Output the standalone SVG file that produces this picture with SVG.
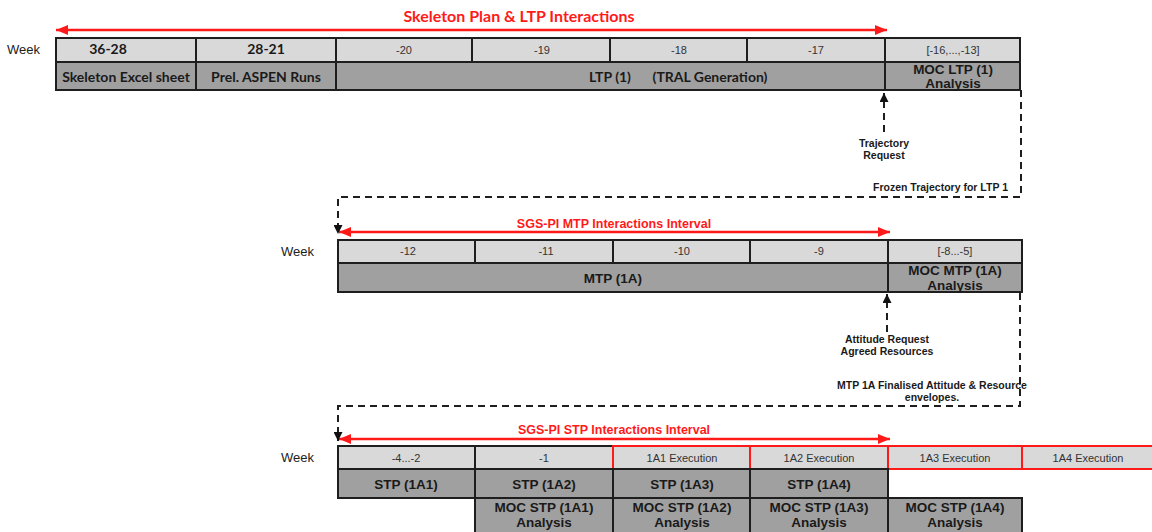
<svg xmlns="http://www.w3.org/2000/svg" width="1152" height="532" viewBox="0 0 1152 532">
<style>
.lt{fill:#d9d9d9;stroke:#1e1e1e;stroke-width:2}
.dk{fill:#a0a0a0;stroke:#1e1e1e;stroke-width:2}
.ex{fill:#d9d9d9;stroke:#ff1a1a;stroke-width:2}
.wk{font-family:"Liberation Sans",Arial,sans-serif;font-size:13px;fill:#222}
.num{font-family:"Liberation Sans",Arial,sans-serif;font-size:11px;fill:#333;text-anchor:middle}
.cal{font-family:Lato,"Open Sans",sans-serif;font-weight:bold;font-size:14px;fill:#1a1a1a;text-anchor:middle}
.bd{font-family:"Liberation Sans",Arial,sans-serif;font-weight:bold;font-size:13.5px;fill:#1a1a1a;text-anchor:middle}
.sm{font-family:"Liberation Sans",Arial,sans-serif;font-weight:bold;font-size:10.5px;fill:#1a1a1a;text-anchor:middle}
.sme{font-family:"Liberation Sans",Arial,sans-serif;font-weight:bold;font-size:10.5px;fill:#1a1a1a;text-anchor:end}
.rt{font-family:"Liberation Sans",Arial,sans-serif;font-weight:bold;font-size:12.5px;fill:#ff1a1a;text-anchor:middle}
.rtc{font-family:Lato,"Open Sans",sans-serif;font-weight:bold;font-size:16px;fill:#ff1a1a;text-anchor:middle}
.red{stroke:#ff1a1a;stroke-width:2.5;fill:none}
.dash{stroke:#1e1e1e;stroke-width:2;fill:none;stroke-dasharray:7 5}
</style>
<defs>
<marker id="rh" viewBox="0 0 12 10" refX="12" refY="5" markerWidth="12" markerHeight="10" markerUnits="userSpaceOnUse" orient="auto-start-reverse">
<path d="M0,0 L12,5 L0,10 Z" fill="#ff1a1a"/>
</marker>
<marker id="bh" viewBox="0 0 10 10" refX="10" refY="5" markerWidth="10" markerHeight="9" markerUnits="userSpaceOnUse" orient="auto">
<path d="M0,0 L10,5 L0,10 Z" fill="#111"/>
</marker>
</defs>
<rect width="1152" height="532" fill="#fff"/>

<!-- Section 1 -->
<text class="rtc" x="519" y="22">Skeleton Plan &amp; LTP Interactions</text>
<text class="wk" x="7" y="54">Week</text>
<g id="w1-36-28"><rect class="lt" x="56" y="38" width="140" height="24"/><text class="cal" x="108" y="54">36-28</text></g>
<g id="w1-28-21"><rect class="lt" x="196" y="38" width="140" height="24"/><text class="cal" x="266" y="54">28-21</text></g>
<g id="w1-20"><rect class="lt" x="336" y="38" width="136" height="24"/><text class="num" x="404" y="54">-20</text></g>
<g id="w1-19"><rect class="lt" x="472" y="38" width="138" height="24"/><text class="num" x="542" y="54">-19</text></g>
<g id="w1-18"><rect class="lt" x="610" y="38" width="137" height="24"/><text class="num" x="679" y="54">-18</text></g>
<g id="w1-17"><rect class="lt" x="747" y="38" width="138" height="24"/><text class="num" x="816" y="54">-17</text></g>
<g id="w1-16-13"><rect class="lt" x="885" y="38" width="135" height="24"/><text class="num" x="953" y="54">[-16,...,-13]</text></g>
<g id="skeleton"><rect class="dk" x="56" y="62" width="140" height="28"/><text class="cal" x="126" y="82">Skeleton Excel sheet</text></g>
<g id="aspen"><rect class="dk" x="196" y="62" width="140" height="28"/><text class="cal" x="266" y="82">Prel. ASPEN Runs</text></g>
<g id="ltp1"><rect class="dk" x="336" y="62" width="549" height="28"/><text class="cal" x="610" y="82">LTP (1)</text><text class="cal" x="710" y="82">(TRAL Generation)</text></g>
<g id="mocltp1"><rect class="dk" x="885" y="62" width="135" height="28"/><text class="bd" x="953" y="74">MOC LTP (1)</text><text class="bd" x="953" y="88">Analysis</text></g>

<!-- Section 2 -->
<text class="rt" x="614" y="228">SGS-PI MTP Interactions Interval</text>
<text class="wk" x="281" y="256">Week</text>
<g id="w2-12"><rect class="lt" x="338" y="240" width="137" height="23"/><text class="num" x="408" y="255">-12</text></g>
<g id="w2-11"><rect class="lt" x="475" y="240" width="138" height="23"/><text class="num" x="546" y="255">-11</text></g>
<g id="w2-10"><rect class="lt" x="613" y="240" width="137" height="23"/><text class="num" x="682" y="255">-10</text></g>
<g id="w2-9"><rect class="lt" x="750" y="240" width="138" height="23"/><text class="num" x="819" y="255">-9</text></g>
<g id="w2-8-5"><rect class="lt" x="888" y="240" width="134" height="23"/><text class="num" x="955" y="255">[-8...-5]</text></g>
<g id="mtp1a"><rect class="dk" x="338" y="263" width="550" height="29"/><text class="bd" x="613" y="283">MTP (1A)</text></g>
<g id="mocmtp1a"><rect class="dk" x="888" y="263" width="134" height="29"/><text class="bd" x="955" y="275">MOC MTP (1A)</text><text class="bd" x="955" y="290">Analysis</text></g>

<!-- Section 3 -->
<text class="rt" x="614" y="434">SGS-PI STP Interactions Interval</text>
<text class="wk" x="281" y="462">Week</text>
<g id="w3-4-2"><rect class="lt" x="338" y="446" width="137" height="23"/><text class="num" x="406" y="462">-4...-2</text></g>
<g id="w3-1"><rect class="lt" x="475" y="446" width="138" height="23"/><text class="num" x="544" y="462">-1</text></g>
<g id="ex1a1"><rect class="ex" x="613" y="446" width="137" height="23"/><text class="num" x="682" y="462">1A1 Execution</text></g>
<g id="ex1a2"><rect class="ex" x="750" y="446" width="138" height="23"/><text class="num" x="819" y="462">1A2 Execution</text></g>
<g id="ex1a3"><rect class="ex" x="888" y="446" width="134" height="23"/><text class="num" x="955" y="462">1A3 Execution</text></g>
<g id="ex1a4"><rect class="ex" x="1022" y="446" width="140" height="23"/><text class="num" x="1088" y="462">1A4 Execution</text></g>
<g id="stp1a1"><rect class="dk" x="338" y="469" width="137" height="29"/><text class="bd" x="406" y="489">STP (1A1)</text></g>
<g id="stp1a2"><rect class="dk" x="475" y="469" width="138" height="29"/><text class="bd" x="544" y="489">STP (1A2)</text></g>
<g id="stp1a3"><rect class="dk" x="613" y="469" width="137" height="29"/><text class="bd" x="682" y="489">STP (1A3)</text></g>
<g id="stp1a4"><rect class="dk" x="750" y="469" width="138" height="29"/><text class="bd" x="819" y="489">STP (1A4)</text></g>
<g id="mocstp1a1"><rect class="dk" x="475" y="498" width="138" height="44"/><text class="bd" x="544" y="512">MOC STP (1A1)</text><text class="bd" x="544" y="527">Analysis</text></g>
<g id="mocstp1a2"><rect class="dk" x="613" y="498" width="137" height="44"/><text class="bd" x="682" y="512">MOC STP (1A2)</text><text class="bd" x="682" y="527">Analysis</text></g>
<g id="mocstp1a3"><rect class="dk" x="750" y="498" width="138" height="44"/><text class="bd" x="819" y="512">MOC STP (1A3)</text><text class="bd" x="819" y="527">Analysis</text></g>
<g id="mocstp1a4"><rect class="dk" x="888" y="498" width="134" height="44"/><text class="bd" x="955" y="512">MOC STP (1A4)</text><text class="bd" x="955" y="527">Analysis</text></g>

<!-- Connectors -->
<g id="connectors">
<line class="red" x1="56" y1="30" x2="887" y2="30" marker-start="url(#rh)" marker-end="url(#rh)"/>
<line class="red" x1="339" y1="232" x2="890" y2="232" marker-start="url(#rh)" marker-end="url(#rh)"/>
<line class="red" x1="339" y1="439" x2="890" y2="439" marker-start="url(#rh)" marker-end="url(#rh)"/>
<line class="dash" x1="884" y1="132" x2="884" y2="93" marker-end="url(#bh)"/>
<text class="sm" x="884" y="147">Trajectory</text>
<text class="sm" x="884" y="159">Request</text>
<polyline class="dash" points="1021,90 1021,197 338,197 338,234" marker-end="url(#bh)"/>
<text class="sme" x="1008" y="191">Frozen Trajectory for LTP 1</text>
<line class="dash" x1="887" y1="332" x2="887" y2="294" marker-end="url(#bh)"/>
<text class="sm" x="887" y="343">Attitude Request</text>
<text class="sm" x="887" y="355">Agreed Resources</text>
<polyline class="dash" points="1020,293 1020,406 338,406 338,441" marker-end="url(#bh)"/>
<text class="sm" x="932" y="389">MTP 1A Finalised Attitude &amp; Resource</text>
<text class="sm" x="932" y="401">envelopes.</text>
</g>
</svg>
